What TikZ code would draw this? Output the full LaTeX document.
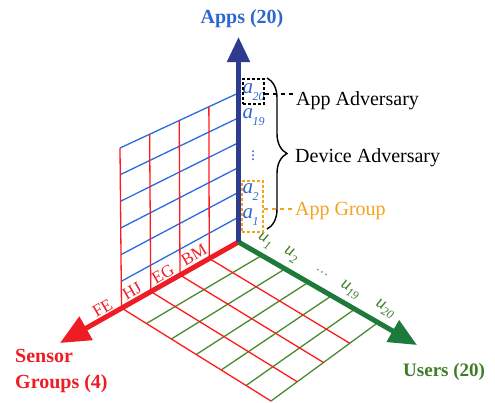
\documentclass[tikz,border=0pt]{standalone}
\usepackage{fontspec}
\setmainfont{Liberation Serif}
\usetikzlibrary{arrows.meta,calc,decorations.pathreplacing}

\definecolor{appblue}{HTML}{2E66D2}
\definecolor{axisblue}{HTML}{2E3C8F}
\definecolor{gridblue}{HTML}{2A6AE0}
\definecolor{sensred}{HTML}{EE1C25}
\definecolor{gridred}{HTML}{FF1A1A}
\definecolor{axisgreen}{HTML}{1D7A3A}
\definecolor{gridgreen}{HTML}{4A8A2C}
\definecolor{usergreen}{HTML}{3E7C28}
\definecolor{grouporange}{HTML}{F7A21E}

% italic index labels: letter with a lowered subscript
\newcommand\appidx[1]{\fontsize{21}{21}\selectfont\itshape a\kern-0.5pt\raisebox{-7pt}{\fontsize{12}{12}\selectfont #1}}
\newcommand\useridx[1]{\fontsize{18}{18}\selectfont\itshape u\raisebox{-5pt}{\fontsize{12}{12}\selectfont #1}}

\begin{document}
\begin{tikzpicture}[x=1pt,y=-1pt,
  axisline/.style={line width=5pt},
  gridline/.style={line width=1.3pt},
  biglabel/.style={font=\bfseries\fontsize{20}{26}\selectfont, inner sep=0pt},
  plainlabel/.style={font=\fontsize{20}{24}\selectfont, inner sep=0pt, anchor=base west},
  ticklabel/.style={font=\fontsize{17}{17}\selectfont, text=sensred, rotate=30, inner sep=0pt},
  userlabel/.style={text=usergreen, rotate=-30, inner sep=0pt},
  applabel/.style={text=appblue, anchor=base west, inner sep=0pt},
  markbox/.style={draw, line width=1.2pt, dash pattern=on 3pt off 2pt, inner sep=0pt, minimum width=21pt},
  leader/.style={line width=1.2pt, dash pattern=on 4pt off 4pt},
]
\useasboundingbox (0,0) rectangle (495,402);

% corners of the wall (apps x sensors) and the floor (sensors x users)
\coordinate (O) at (238.5,242);
\coordinate (S) at (121.5,308);
\coordinate (U) at (376,324);
\coordinate (F) at (271,401);
\coordinate (A) at (238.5,93);
\coordinate (B) at (120,148);
\coordinate (appstip) at (238.5,37);
\coordinate (senstip) at (60,343);
\coordinate (usertip) at (417,345);

% floor grid
\foreach \t in {1,...,6}
  \draw[gridline, gridgreen] ($(O)!\t/6!(U)$) -- ($(S)!\t/6!(F)$);
\foreach \s in {0.25,0.5,0.75,1}
  \draw[gridline, gridred] ($(O)!\s!(S)$) -- ($(U)!\s!(F)$);

% wall grid
\foreach \v in {1,...,6}
  \draw[gridline, gridblue] ($(O)!\v/6!(A)$) -- ($(S)!\v/6!(B)$);
\foreach \s in {0.25,0.5,0.75,1}
  \draw[gridline, gridred] ($(O)!\s!(S)$) -- ($(A)!\s!(B)$);

% axes
\draw[axisline, sensred, -{Triangle[length=30pt,width=26pt]}] (O) -- (senstip);
\draw[axisline, axisgreen, -{Triangle[length=28pt,width=24pt]}] (O) -- (usertip);
\draw[axisline, axisblue, -{Triangle[length=25pt,width=22pt]}] (O) -- (appstip);

% axis titles
\node[biglabel, text=appblue, anchor=base] (apps) at (242,23) {Apps (20)};
\node[biglabel, text=sensred, anchor=base west] (sensors) at (15,362)
  {\begin{tabular}[t]{@{}l@{}}Sensor\\Groups (4)\end{tabular}};
\node[biglabel, text=usergreen, anchor=base west, font=\bfseries\fontsize{19}{24}\selectfont] (users) at (403,376) {Users (20)};

% sensor group ticks
\node[ticklabel] (fe) at (102.5,308) {FE};
\node[ticklabel] (hj) at (132,291) {HJ};
\node[ticklabel] (eg) at (163,274) {EG};
\node[ticklabel] (bm) at (194,255) {BM};

% user ticks
\node[userlabel] (u1) at (265,241) {\useridx{1}};
\node[userlabel] (u2) at (291,255) {\useridx{2}};
\node[userlabel, text=usergreen!60!gray] (udots) at (322,272) {\fontsize{14}{14}\selectfont\dots};
\node[userlabel] (u19) at (350,290) {\useridx{19}};
\node[userlabel] (u20) at (385,309) {\useridx{20}};

% app ticks
\node[applabel] (a20) at (242.5,93) {\appidx{20}};
\node[applabel] (a19) at (242.5,118) {\appidx{19}};
\node[text=appblue, inner sep=0pt] (adots) at (253,153) {\fontsize{16}{16}\selectfont\vdots};
\node[applabel] (a2) at (242.5,193) {\appidx{2}};
\node[applabel] (a1) at (242.5,218) {\appidx{1}};

% adversary and group markers
\node[markbox, draw=black, minimum height=25pt] (advbox) at (253.5,91.5) {};
\node[markbox, draw=grouporange, minimum height=51pt] (grpbox) at (252.5,206.5) {};

\coordinate (brtop) at (267,78);
\coordinate (brbot) at (267,229);
\draw[line width=1.4pt, decorate, decoration={brace, amplitude=20pt}] (brtop) -- (brbot);

\node[plainlabel] (appadv) at (296,105) {App Adversary};
\node[plainlabel] (devadv) at (295,162) {Device Adversary};
\node[plainlabel, text=grouporange] (appgrp) at (295,215) {App Group};

\draw[leader] ($(advbox.east)+(0,2.5)$) -- ($(advbox.east -| appadv.west)+(-3,2.5)$);
\draw[leader, grouporange] ($(grpbox.east)+(0,2.5)$) -- ($(grpbox.east -| appgrp.west)+(-3,2.5)$);
\end{tikzpicture}
\end{document}
